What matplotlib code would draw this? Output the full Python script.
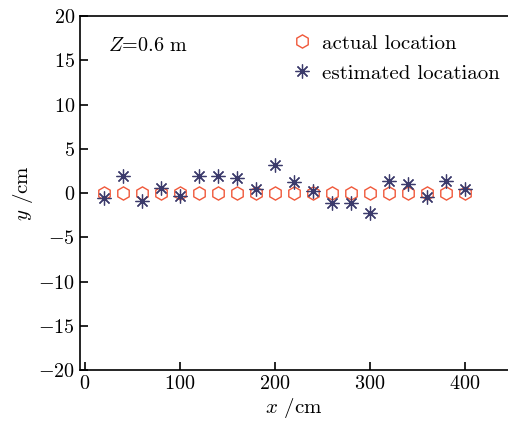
import numpy as np
import matplotlib.pyplot as plt

plt.rcParams['font.family'] = 'cmr10'
plt.rcParams['mathtext.fontset'] = 'cm'
plt.rcParams['axes.formatter.use_mathtext'] = True

x_pos = [20, 40, 60, 80, 100, 120, 140, 160, 180, 200,
         220, 240, 260, 280, 300, 320, 340, 360, 380, 400]
y_actual = [0] * 20
y_est = [-0.55, 1.9, -0.95, 0.6, -0.35, 1.9, 1.95, 1.65, 0.45, 3.15,
         1.3, 0.25, -1.15, -1.1, -2.2, 1.35, 1.0, -0.5, 1.35, 0.5]

fig = plt.figure(figsize=(5.08, 4.22), dpi=100)
ax = fig.add_axes([0.157, 0.123, 0.843, 0.839])

ax.plot(x_pos, y_actual, linestyle='none', marker='h', markersize=9.5,
        markerfacecolor='none', markeredgecolor='#f0583a', markeredgewidth=1.0,
        label='actual location')
ax.plot(x_pos, y_est, linestyle='none', marker=(8, 2, 0), markersize=10,
        color='#3b3a6b', markeredgewidth=0.9, label='estimated locatiaon')

ax.set_xlim(-5, 445)
ax.set_ylim(-20, 20)
ax.set_xticks([0, 100, 200, 300, 400])
ax.set_yticks(np.arange(-20, 21, 5))
ax.tick_params(direction='in', length=6, width=1.2, labelsize=14.5)
for s in ax.spines.values():
    s.set_linewidth(1.2)
ax.spines['right'].set_visible(False)

ax.set_xlabel(r'$x$ /cm', fontsize=15, labelpad=2)
ax.set_ylabel(r'$y$ /cm', fontsize=15, labelpad=2)
ax.text(0.065, 0.915, r'$Z$=0.6 m', transform=ax.transAxes, fontsize=14.5, va='center')

ax.legend(loc='upper right', bbox_to_anchor=(1.015, 0.99), frameon=False, fontsize=15,
          handletextpad=0.3, borderaxespad=0.3, labelspacing=0.55, handlelength=1.3)

fig.savefig('out.png', dpi=100)
